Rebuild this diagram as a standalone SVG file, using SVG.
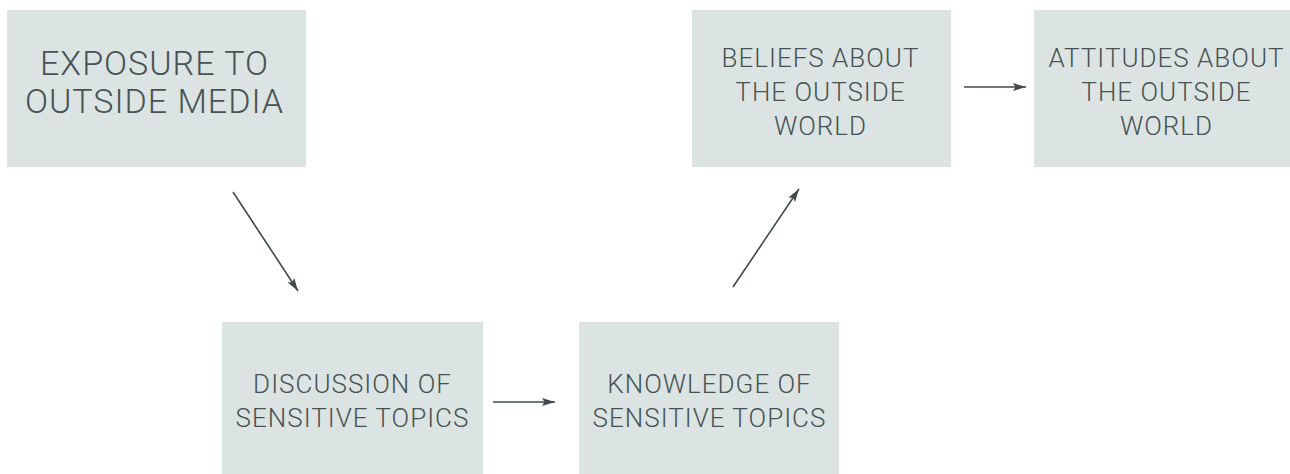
<svg xmlns="http://www.w3.org/2000/svg" width="1290" height="474" viewBox="0 0 1290 474">
<style>
.box{fill:#dbe4e2;}
.t{font-family:Roboto,"Liberation Sans",Arial,sans-serif;font-weight:300;fill:#475254;text-anchor:middle;letter-spacing:1px;}
.big{font-size:34px;}
.sm{font-size:26px;}
.c{stroke:#3f4a4c;stroke-width:1.6;fill:none;marker-end:url(#ah);}
</style>
<defs>
<marker id="ah" markerUnits="userSpaceOnUse" markerWidth="14" markerHeight="10" refX="13" refY="4" orient="auto">
<path d="M0,0 L13,4 L0,8 L2.5,4 z" fill="#3f4a4c"/>
</marker>
</defs>
<rect width="1290" height="474" fill="#ffffff"/>
<g id="exposure">
<rect class="box" x="7" y="10" width="299" height="157"/>
<text class="t big" x="154.5" y="75">EXPOSURE TO</text>
<text class="t big" x="154.5" y="113">OUTSIDE MEDIA</text>
</g>
<g id="beliefs">
<rect class="box" x="692" y="10" width="259" height="157"/>
<text class="t sm" x="820.5" y="67">BELIEFS ABOUT</text>
<text class="t sm" x="820.5" y="101">THE OUTSIDE</text>
<text class="t sm" x="820.5" y="135">WORLD</text>
</g>
<g id="attitudes">
<rect class="box" x="1034" y="10" width="256" height="157"/>
<text class="t sm" x="1166.5" y="67">ATTITUDES ABOUT</text>
<text class="t sm" x="1166.5" y="101">THE OUTSIDE</text>
<text class="t sm" x="1166.5" y="135">WORLD</text>
</g>
<g id="discussion">
<rect class="box" x="222" y="322" width="261" height="152"/>
<text class="t sm" x="352.5" y="393">DISCUSSION OF</text>
<text class="t sm" x="352.5" y="427">SENSITIVE TOPICS</text>
</g>
<g id="knowledge">
<rect class="box" x="579" y="322" width="260" height="152"/>
<text class="t sm" x="709.5" y="393">KNOWLEDGE OF</text>
<text class="t sm" x="709.5" y="427">SENSITIVE TOPICS</text>
</g>
<g id="connectors">
<line class="c" x1="233" y1="192" x2="298" y2="291"/>
<line class="c" x1="493" y1="402" x2="555" y2="402"/>
<line class="c" x1="733" y1="287" x2="799" y2="189"/>
<line class="c" x1="964" y1="87" x2="1026" y2="87"/>
</g>
</svg>
